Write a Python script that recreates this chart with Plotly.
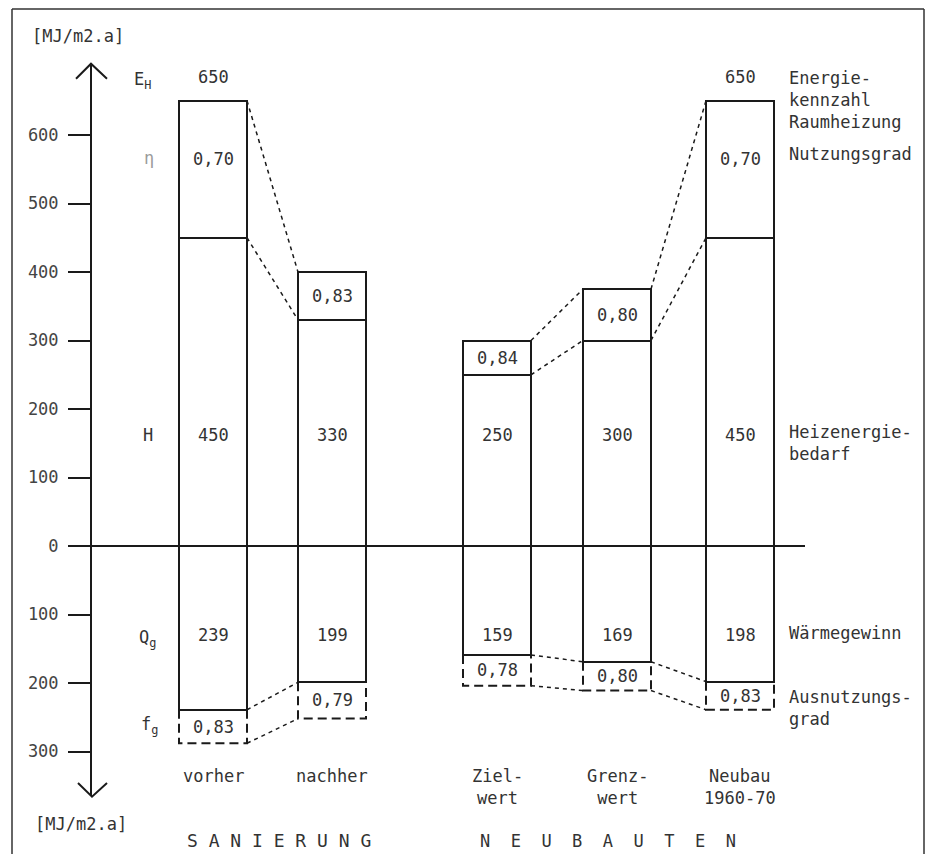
import plotly.graph_objects as go

# ---------------- data ----------------
categories = ["vorher", "nachher", "Ziel-<br>wert", "Grenz-<br>wert", "Neubau<br>1960-70"]
groups = ["S A N I E R U N G", "N\u00a0\u00a0E\u00a0\u00a0U\u00a0\u00a0B\u00a0\u00a0A\u00a0\u00a0U\u00a0\u00a0T\u00a0\u00a0E\u00a0\u00a0N"]
energiekennzahl = [650, 400, 300, 375, 650]          # E_H (top of bar)
energiekennzahl_label = ["650", "", "", "", "650"]
nutzungsgrad = ["0,70", "0,83", "0,84", "0,80", "0,70"]  # eta
heizenergiebedarf = [450, 330, 250, 300, 450]       # H
waermegewinn = [239, 199, 159, 169, 198]            # Q_g (downwards)
gewinn_angebot = [288, 252, 204, 211, 239]          # bottom of dashed f_g box
ausnutzungsgrad = ["0,83", "0,79", "0,78", "0,80", "0,83"]  # f_g
tick_values = [-300, -200, -100, 0, 100, 200, 300, 400, 500, 600]
tick_labels = ["300", "200", "100", "0", "100", "200", "300", "400", "500", "600"]
unit_label = "[MJ/m2.a]"

# ---------------- layout constants ----------------
COL_X = [213, 332, 497, 617, 740]
BAR_W = 68
LINKS = [(0, 1), (2, 3), (3, 4)]
FONT = "DejaVu Sans Mono"
TXT = "#333333"
LINE = "#1a1a1a"
PX = 0.685  # pixels per unit

fig = go.Figure()

bar_style = dict(marker=dict(color="white", line=dict(color=LINE, width=2)),
                 width=BAR_W, hoverinfo="skip", showlegend=False)
fig.add_trace(go.Bar(x=COL_X, y=heizenergiebedarf, **bar_style))
fig.add_trace(go.Bar(x=COL_X, y=[e - h for e, h in zip(energiekennzahl, heizenergiebedarf)],
                     base=heizenergiebedarf, **bar_style))
fig.add_trace(go.Bar(x=COL_X, y=[-q for q in waermegewinn], **bar_style))

# dashed f_g boxes
for i, cx in enumerate(COL_X):
    x0, x1 = cx - BAR_W / 2, cx + BAR_W / 2
    fig.add_trace(go.Scatter(
        x=[x0, x0, x1, x1], y=[-waermegewinn[i], -gewinn_angebot[i], -gewinn_angebot[i], -waermegewinn[i]],
        mode="lines", line=dict(color=LINE, width=2, dash="9px,5px"),
        hoverinfo="skip", showlegend=False))

# dashed connectors
for a, b in LINKS:
    for series, sign in ((energiekennzahl, 1), (heizenergiebedarf, 1),
                         (waermegewinn, -1), (gewinn_angebot, -1)):
        fig.add_trace(go.Scatter(
            x=[COL_X[a] + BAR_W / 2, COL_X[b] - BAR_W / 2],
            y=[sign * series[a], sign * series[b]],
            mode="lines", line=dict(color=LINE, width=1.5, dash="4px,4px"),
            hoverinfo="skip", showlegend=False))

ann = []
def t(x, y, text, size=17, color=TXT, xanchor="center", yanchor="middle", align="center"):
    ann.append(dict(x=x, y=y, xref="x", yref="y", text=text, showarrow=False,
                    font=dict(family=FONT, size=size, color=color),
                    xanchor=xanchor, yanchor=yanchor, align=align))

for i, cx in enumerate(COL_X):
    e, h = energiekennzahl[i], heizenergiebedarf[i]
    if energiekennzahl_label[i]:
        t(cx, e + 35, energiekennzahl_label[i])
    eta_y = (e + h) / 2 if e - h < 150 else e - 85
    t(cx, eta_y, nutzungsgrad[i])
    t(cx, 162, str(h))
    t(cx, -130, str(waermegewinn[i]))
    t(cx, -(waermegewinn[i] + gewinn_angebot[i]) / 2, ausnutzungsgrad[i])
    t(cx, -318, categories[i], yanchor="top")

# row labels left
t(142, 680, "E<sub>H</sub>")
t(149, 567, "\u03b7", color="#9a9a9a")
t(148, 162, "H")
t(147, -135, "Q<sub>g</sub>")
t(149, -262, "f<sub>g</sub>")

# row labels right
RX = 787
t(RX, 683, "Energie-<br>kennzahl<br>Raumheizung", xanchor="left", yanchor="top", align="left")
ann[-1]["yshift"] = 12
t(RX, 572, "Nutzungsgrad", xanchor="left", align="left")
t(RX, 166, "Heizenergie-<br>bedarf", xanchor="left", yanchor="top", align="left")
ann[-1]["yshift"] = 12
t(RX, -127, "W\u00e4rmegewinn", xanchor="left", align="left")
t(RX, -220, "Ausnutzungs-<br>grad", xanchor="left", yanchor="top", align="left")
ann[-1]["yshift"] = 12

# units
t(30, 745, unit_label, xanchor="left")
t(33, -406, unit_label, xanchor="left")

# group labels
t(185, -430, groups[0], size=18, xanchor="left", align="left")
t(478, -430, groups[1], xanchor="left", align="left")

# axis line, arrows, zero line, frame
frame = dict(color="#333", width=1.5)
shapes = [
    dict(type="line", xref="x", yref="y", x0=91, x1=91, y0=-365, y1=704, line=dict(color=LINE, width=2)),
    dict(type="path", xref="x", yref="y", path="M 76 682 L 91 704 L 107 682", line=dict(color=LINE, width=2)),
    dict(type="path", xref="x", yref="y", path="M 78 -346 L 92 -366 L 107 -346", line=dict(color=LINE, width=2)),
    dict(type="line", xref="x", yref="y", x0=70, x1=805, y0=0, y1=0, line=dict(color=LINE, width=2)),
    dict(type="line", xref="paper", yref="paper", x0=12 / 934, x1=12 / 934, y0=0, y1=1 - 9 / 854, line=frame),
    dict(type="line", xref="paper", yref="paper", x0=924 / 934, x1=924 / 934, y0=0, y1=1 - 9 / 854, line=frame),
    dict(type="line", xref="paper", yref="paper", x0=12 / 934, x1=924 / 934, y0=1 - 9 / 854, y1=1 - 9 / 854, line=frame),
]

fig.update_layout(
    width=934, height=854, margin=dict(l=0, r=0, t=0, b=0),
    paper_bgcolor="white", plot_bgcolor="white",
    barmode="overlay", bargap=0,
    xaxis=dict(range=[0, 934], visible=False, fixedrange=True),
    yaxis=dict(range=[-(854 - 546) / PX, 546 / PX], anchor="free", position=90 / 934,
               showgrid=False, zeroline=False, showline=False,
               tickmode="array", tickvals=tick_values, ticktext=tick_labels,
               ticks="outside", ticklen=22, tickwidth=2, tickcolor=LINE,
               ticklabelstandoff=6,
               tickfont=dict(family=FONT, size=17, color="#444"), fixedrange=True),
    annotations=ann, shapes=shapes, showlegend=False,
)

fig.write_html("out.html", config={"displayModeBar": False},
               post_script="document.body.style.margin='0';document.body.style.padding='0';")
